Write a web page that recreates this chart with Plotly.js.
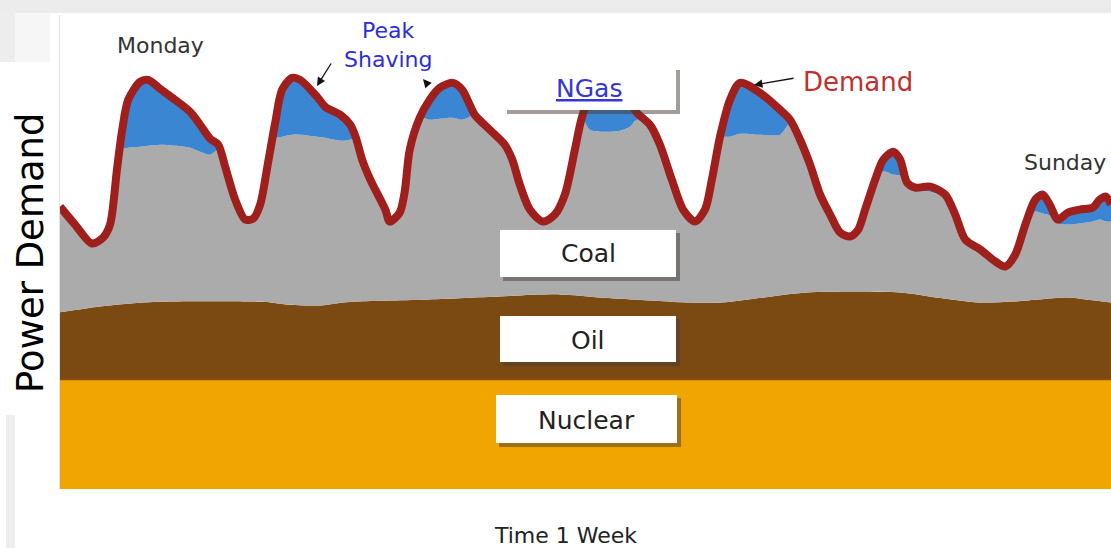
<!DOCTYPE html>
<html>
<head>
<meta charset="utf-8">
<script src="https://cdn.plot.ly/plotly-3.0.1.min.js"></script>
<style>html,body{margin:0;padding:0;background:#fff;}#chart{width:1111px;height:548px;}</style>
</head>
<body>
<div id="chart"></div>
<script>
// Time in hours over one week
const hours = [0,2.4,5.1,6.9,8.0,9.1,9.9,10.9,12.8,14.1,16.0,18.4,20.8,22.4,24.0,25.3,26.4,28.0,29.6,30.9,32.0,33.2,34.4,35.5,37.1,38.4,41.1,42.4,44.8,46.4,47.3,48.3,49.6,52.0,52.7,54.3,55.1,55.9,57.5,59.1,60.7,62.8,64.3,65.5,66.3,68.7,71.1,72.3,73.5,75.1,77.2,79.1,80.7,82.3,83.4,84.7,87.1,89.5,91.1,92.2,94.3,95.9,97.8,99.6,101.5,103.1,104.2,105.5,107.1,108.7,111.9,115.1,116.7,118.3,119.9,121.5,123.1,124.7,126.3,127.6,128.7,130.3,131.6,133.2,134.3,135.4,136.7,139.1,141.5,143.1,144.7,147.1,149.5,151.1,152.7,154.3,155.9,157.1,158.2,159.5,161.1,163.0,165.1,166.2,167.2,168];
// Total power demand
const demand = [56.6,53,49.2,50.4,53,64,71.6,78,81.6,82,80.2,78,75.6,73,70.2,69,64.6,58,54,54.2,57,65,73.4,80,82.4,82,78.6,76.6,75,73,70.4,66,62,56,53.6,55.4,59.6,68,74.4,78,80.4,81.4,80,77,75,72,69,66,61,56,53.6,55,59,68,74.4,78.6,80.6,79.6,77.6,75.4,73,69,62,56,53.6,56,62,70.6,78,81.4,79.4,76,74,70,65,59,55,51.4,50.6,52,56,62,66,67.6,66,61.4,60.4,60.6,59,55,50,48,45.6,44.6,47,53,58,59,57,54,55.4,56,56.4,58,58.6,57];
// Natural gas peak shaving
const ngas = [0,0,0,0,0,0,3.6,9.6,13,13.2,11.2,9.2,7.2,5.4,3.2,1,0,0,0,0,0,0,3.2,9.4,11.4,11,8,6.2,5.2,3,0,0,0,0,0,0,0,0,0,4,6.2,7,6,2.4,0,0,0,0,0,0,0,0,0,0,0,6.6,9,7.8,5,1.4,0,0,0,0,0,0,0,0.2,7.4,10.2,8.4,5,0.8,0,0,0,0,0,0,0,0,0,2.4,4.6,3.2,0,0.6,1,0.6,0,0,0,0,0,0,0,2.4,3.8,2.2,0.8,2.4,2.8,2.8,4,5,3.4];
// Oil output
const oilHours = [0,6.4,13.3,17.7,30.4,33.7,36.1,41.7,45.2,47.5,59,70.3,79.9,86.3,94.3,100.1,105.7,112.5,119.4,134.3,140,146.9,152.5,161.1,164,168];
const oil = [13.4,14.6,15.4,15.6,15.6,15.4,15,14.8,15.4,15.6,16,16.6,17,16.4,15.8,15.4,15.4,16.4,17.4,17.4,16.4,15.4,15.6,16.4,16,15.4];
// Nuclear base load (constant)
const nuclear = 22;

const nuclearX = [0, 168];
const nuclearY = [nuclear, nuclear];
const oilTop = oil.map(v => v + nuclear);
const coalTop = demand.map((d, i) => d - ngas[i]);

const FONT = '"DejaVu Sans", Verdana, sans-serif';
const L = 60, R = 1111, T = 15, B = 489;
const px = p => (p - L) / (R - L);
const py = p => (B - p) / (B - T);

const traces = [
  {x: nuclearX, y: nuclearY, type: 'scatter', mode: 'lines', fill: 'tozeroy',
   fillcolor: '#f0a500', line: {color: '#8a4c0c', width: 2}, hoverinfo: 'skip'},
  {x: oilHours, y: oilTop, type: 'scatter', mode: 'lines', fill: 'tonexty',
   fillcolor: '#7a4a12', line: {color: '#7a4a12', width: 0, shape: 'spline', smoothing: 0.8}, hoverinfo: 'skip'},
  {x: hours, y: coalTop, type: 'scatter', mode: 'lines', fill: 'tonexty',
   fillcolor: '#ababab', line: {color: '#ababab', width: 0, shape: 'spline', smoothing: 0.8}, hoverinfo: 'skip'},
  {x: hours, y: demand, type: 'scatter', mode: 'lines', fill: 'tonexty',
   fillcolor: '#3b86d2', line: {color: '#9f1f1c', width: 8, shape: 'spline', smoothing: 0.8}, hoverinfo: 'skip'}
];

function box(x0, y0, x1, y1) {
  return [
    {type: 'rect', xref: 'paper', yref: 'paper', x0: px(x0 + 3), x1: px(x1 + 4), y0: py(y1 + 4), y1: py(y0 + 3),
     fillcolor: 'rgba(70,60,50,0.5)', line: {width: 0}, layer: 'above'},
    {type: 'rect', xref: 'paper', yref: 'paper', x0: px(x0), x1: px(x1), y0: py(y1), y1: py(y0),
     fillcolor: '#ffffff', line: {width: 0}, layer: 'above'}
  ];
}

const shapes = [
  {type: 'rect', xref: 'paper', yref: 'paper', x0: px(0), x1: px(1111), y0: py(13), y1: py(0),
   fillcolor: '#ececec', line: {width: 0}, layer: 'below'},
  {type: 'rect', xref: 'paper', yref: 'paper', x0: px(0), x1: px(15), y0: py(62), y1: py(13),
   fillcolor: '#ededed', line: {width: 0}, layer: 'below'},
  {type: 'rect', xref: 'paper', yref: 'paper', x0: px(15), x1: px(50), y0: py(62), y1: py(13),
   fillcolor: '#f6f6f6', line: {width: 0}, layer: 'below'},
  {type: 'rect', xref: 'paper', yref: 'paper', x0: px(6), x1: px(15), y0: py(548), y1: py(415),
   fillcolor: '#eeeeee', line: {width: 0}, layer: 'below'},
  ...box(504, 67, 676, 110),
  ...box(500, 230, 676, 277),
  ...box(500, 316, 676, 362),
  ...box(496, 395, 677, 443)
];

function label(text, x, y, size, color, extra) {
  return Object.assign({text: text, xref: 'paper', yref: 'paper', x: px(x), y: py(y),
    xanchor: 'center', yanchor: 'middle', showarrow: false,
    font: {family: FONT, size: size, color: color}}, extra || {});
}
function arrow(hx, hy, tx, ty) {
  return {text: '', xref: 'paper', yref: 'paper', x: px(hx), y: py(hy), ax: tx - hx, ay: ty - hy,
    showarrow: true, arrowhead: 2, arrowsize: 1.3, arrowwidth: 1.3, arrowcolor: '#111'};
}

const annotations = [
  label('Monday', 160, 46, 22, '#333333'),
  label('Peak<br>Shaving', 388, 45, 22, '#2e2ed6'),
  label('<u>NGas</u>', 589, 88, 25, '#3535d8'),
  label('Demand', 858, 82, 26, '#c0302c'),
  label('Sunday', 1065, 162, 22, '#333333'),
  label('Coal', 588, 254, 25, '#222222'),
  label('Oil', 588, 340, 25, '#222222'),
  label('Nuclear', 586, 420, 25, '#222222'),
  label('Time 1 Week', 565, 535, 22, '#222222'),
  label('Power Demand', 30, 253, 37, '#000000', {textangle: -90}),
  arrow(317, 86, 332, 62),
  arrow(423, 79, 429, 86),
  arrow(754, 85, 795, 78)
];

const layout = {
  width: 1111, height: 548,
  margin: {l: L, r: 1111 - R, t: T, b: 548 - B, pad: 0},
  paper_bgcolor: '#ffffff', plot_bgcolor: '#ffffff',
  showlegend: false,
  xaxis: {range: [0, 168], showgrid: false, zeroline: false, showticklabels: false, ticks: '', showline: false, fixedrange: true},
  yaxis: {range: [0, 95], showgrid: false, zeroline: false, showticklabels: false, ticks: '',
          showline: true, linecolor: '#e2e2e2', linewidth: 1, fixedrange: true},
  shapes: shapes,
  annotations: annotations
};

Plotly.newPlot('chart', traces, layout, {displayModeBar: false, staticPlot: true});
</script>
</body>
</html>
